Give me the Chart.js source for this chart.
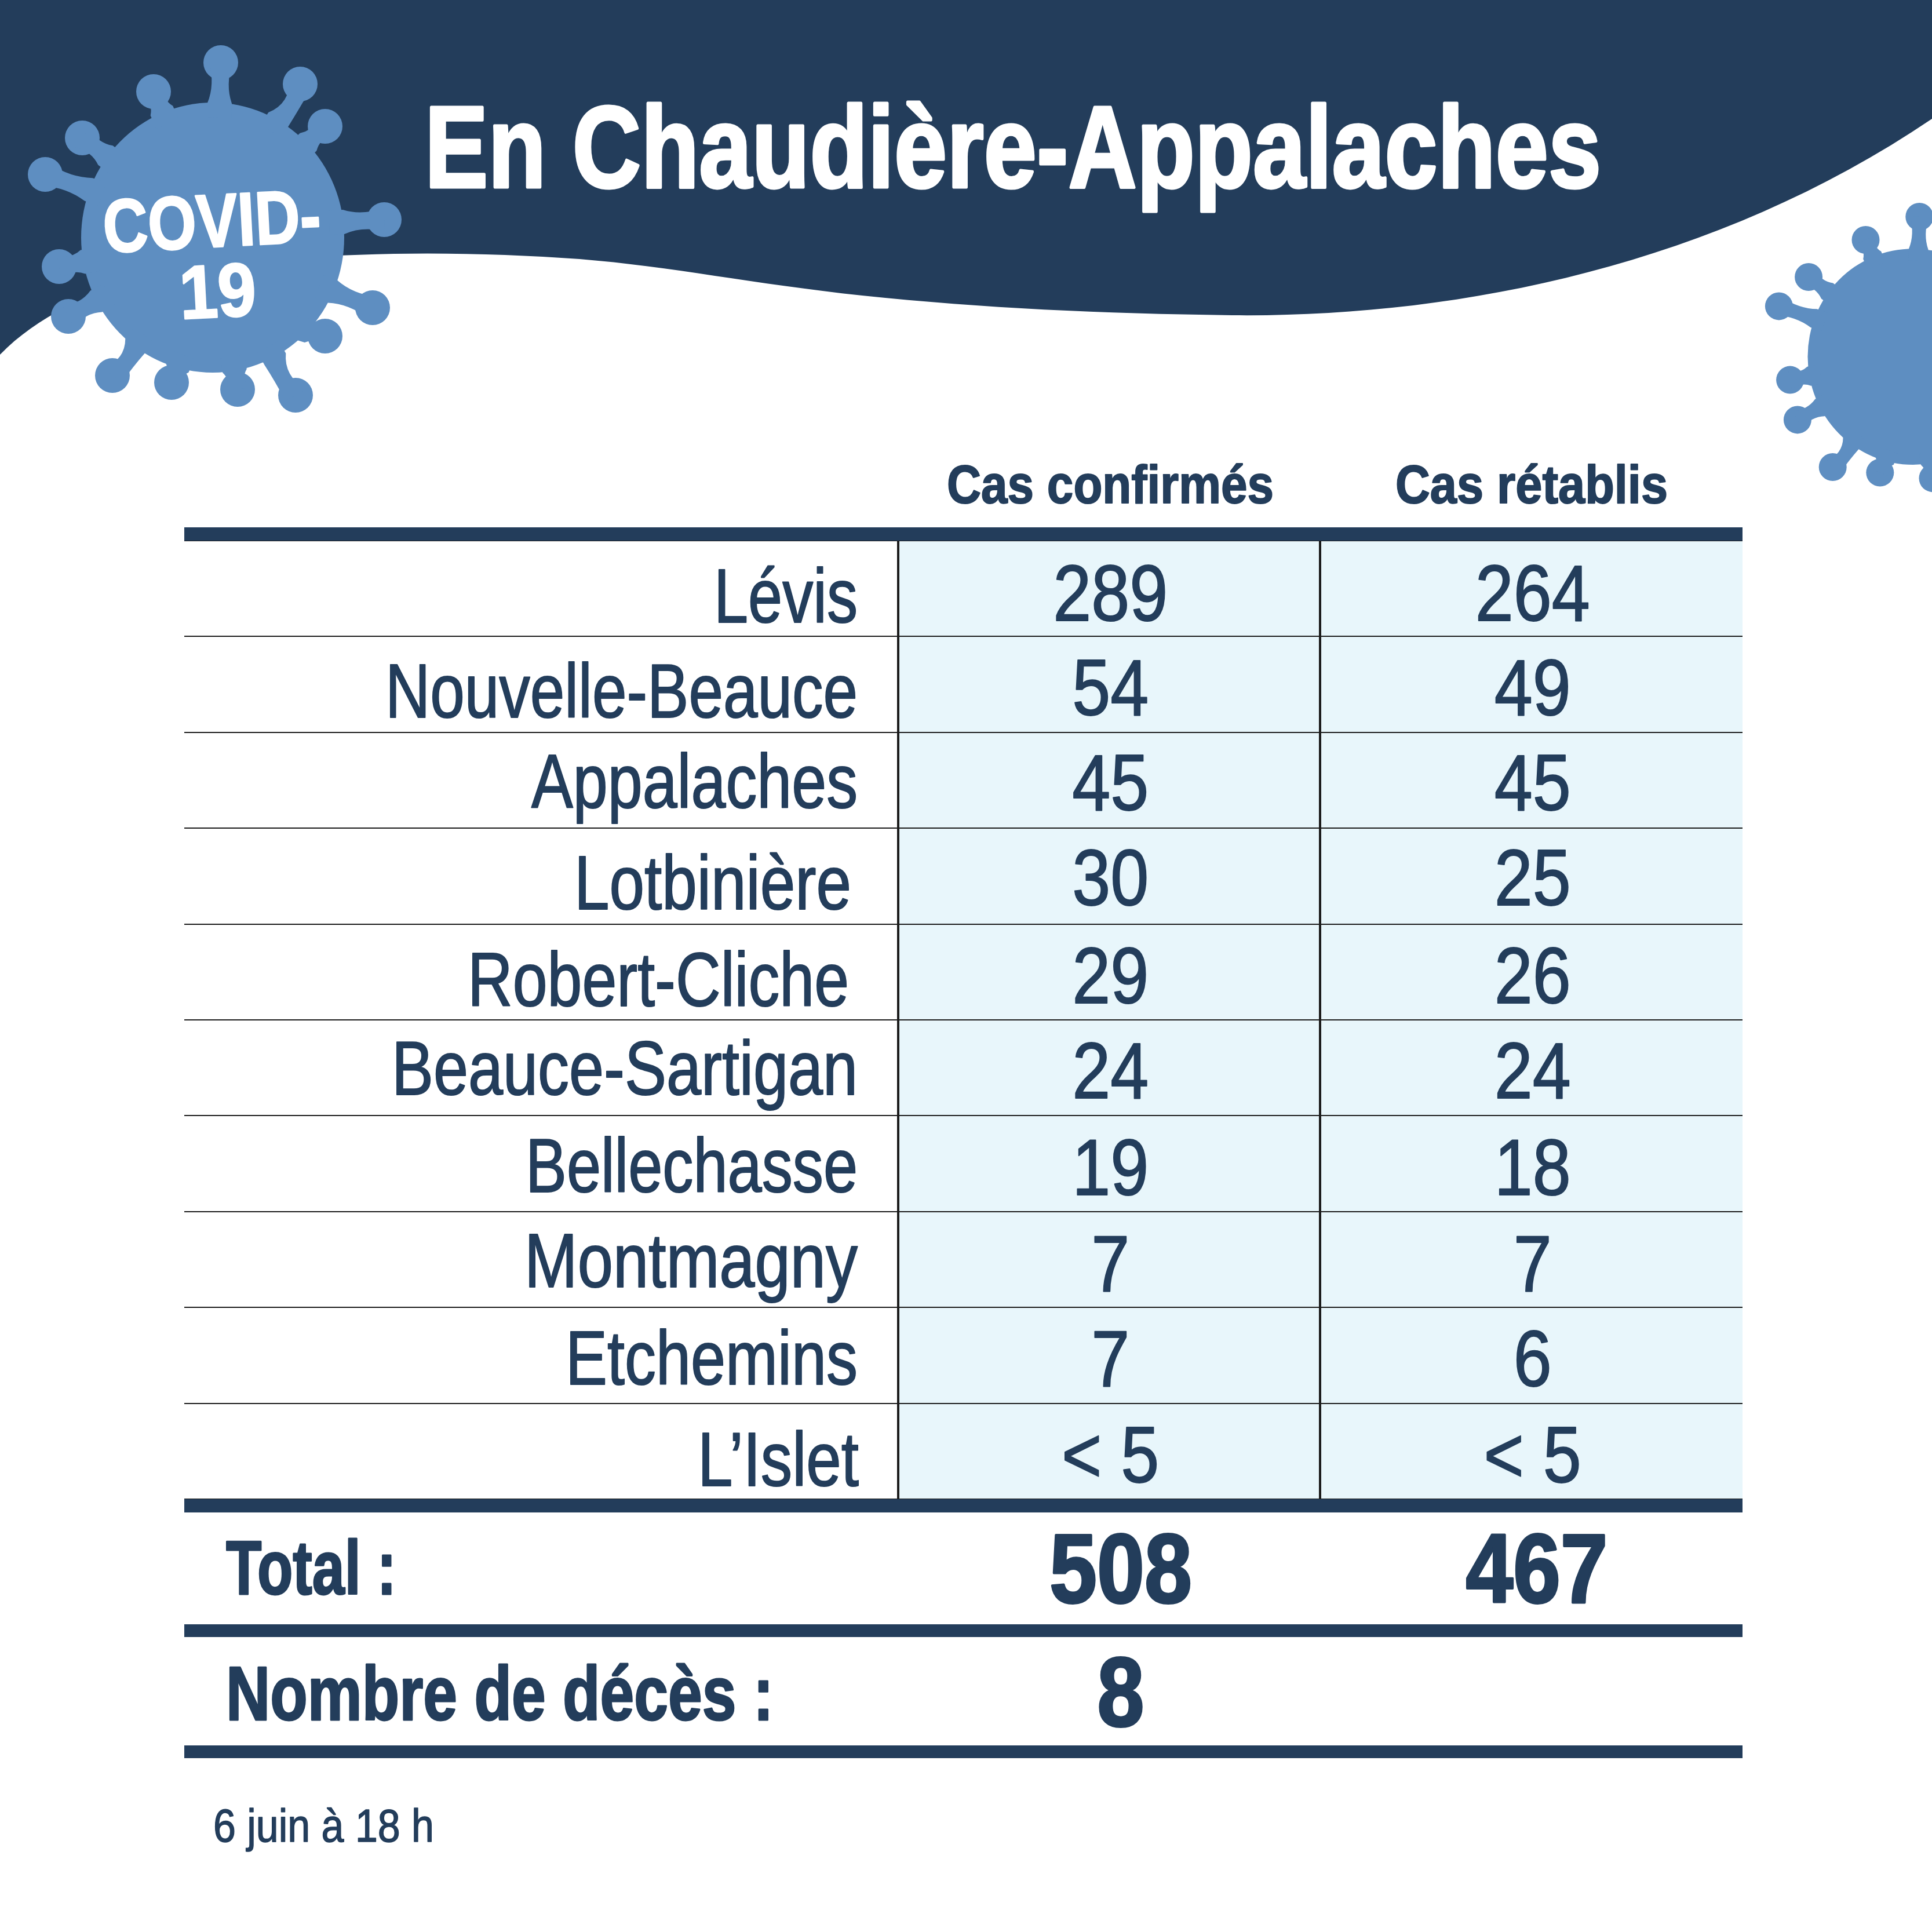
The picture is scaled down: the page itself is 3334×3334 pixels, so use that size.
<!DOCTYPE html>
<html lang="fr">
<head>
<meta charset="utf-8">
<title>COVID-19 en Chaudière-Appalaches</title>
<script src="https://cdn.jsdelivr.net/npm/chart.js@4"></script>
<style>
  html, body { margin: 0; padding: 0; background: #fff; }
  canvas { display: block; }
</style>
</head>
<body>
<canvas id="chartCovid" width="3334" height="3334"></canvas>
<script>
// Table content
const regions = ['Lévis', 'Nouvelle-Beauce', 'Appalaches', 'Lotbinière', 'Robert-Cliche',
                 'Beauce-Sartigan', 'Bellechasse', 'Montmagny', 'Etchemins', 'L’Islet'];
const casConfirmes = ['289', '54', '45', '30', '29', '24', '19', '7', '7', '< 5'];
const casRetablis = ['264', '49', '45', '25', '26', '24', '18', '7', '6', '< 5'];
const columnTitles = ['Cas confirmés', 'Cas rétablis'];
const totalLabel = 'Total :';
const totals = ['508', '467'];
const decesLabel = 'Nombre de décès :';
const deces = '8';
const title = 'En Chaudière-Appalaches';
const dateNote = '6 juin à 18 h';

// Typesetting of the rows (the source nudges each line by hand)
const labelRight = [1480, 1480, 1480, 1469, 1465, 1480, 1480, 1480, 1480, 1482];
const labelWidth = [248, 815, 563, 478, 658, 804, 573, 575, 504, 278];
const labelDrop = [58, 57, 47.5, 57, 59, 46, 49, 47.5, 50, 60];
const valueDrop = [55, 53, 51.5, 50, 53.6, 52, 54, 54.5, 53, 54];

const NAVY = '#233d5b';
const BLUE = '#5e8ec1';
const ICE = '#e8f6fb';
const RULE = '#1c1c1c';
const FONT = '"Liberation Sans"';

// Virus outline: knob centre, where its stem meets the body, how far the stem bows
const knobs = [
    [381, 108, 379, 178, 0], [265, 158, 279, 191, 0], [518, 145, 481, 205, -12], [561, 218, 532, 245, 0],
    [142, 238, 182, 268, 0], [78, 301, 153, 327, 0], [663, 379, 593, 383, 0], [102, 460, 143, 452, 0],
    [643, 531, 574, 503, 0], [118, 546, 166, 520, 0], [561, 580, 532, 571, 0], [194, 648, 233, 597, 10],
    [296, 660, 306, 635, 0], [410, 672, 405, 640, 0], [510, 682, 475, 620, -10]
];

function drawVirus(ctx, ox, oy, s) {
    ctx.save();
    ctx.translate(ox, oy);
    ctx.scale(s, s);
    ctx.fillStyle = BLUE;
    ctx.beginPath();
    ctx.ellipse(367, 410, 227, 233, 0, 0, Math.PI * 2);
    ctx.fill();
    knobs.forEach(([bx, by, ax, ay, bow]) => {
        const len = Math.hypot(ax - bx, ay - by);
        const ux = (ax - bx) / len, uy = (ay - by) / len;
        const nx = -uy, ny = ux;
        const mx = bx + (ax - bx) * 0.55 + nx * bow, my = by + (ay - by) * 0.55 + ny * bow;
        ctx.beginPath();
        ctx.arc(bx, by, 30, 0, Math.PI * 2);
        ctx.fill();
        ctx.beginPath();
        ctx.moveTo(bx + nx * 20, by + ny * 20);
        ctx.quadraticCurveTo(mx + nx * 9, my + ny * 9, ax + nx * 21, ay + ny * 21);
        ctx.lineTo(ax + ux * 25 + nx * 21, ay + uy * 25 + ny * 21);
        ctx.lineTo(ax + ux * 25 - nx * 21, ay + uy * 25 - ny * 21);
        ctx.lineTo(ax - nx * 21, ay - ny * 21);
        ctx.quadraticCurveTo(mx - nx * 9, my - ny * 9, bx - nx * 20, by - ny * 20);
        ctx.closePath();
        ctx.fill();
    });
    ctx.restore();
}

function drawBanner(ctx) {
    ctx.fillStyle = NAVY;
    ctx.beginPath();
    ctx.moveTo(0, 0);
    ctx.lineTo(3334, 0);
    ctx.lineTo(3334, 205);
    ctx.bezierCurveTo(2950, 465, 2500, 548, 2126, 544);
    ctx.bezierCurveTo(1900, 541, 1700, 532, 1488, 510);
    ctx.bezierCurveTo(1300, 490, 1160, 460, 1000, 447);
    ctx.bezierCurveTo(900, 440, 790, 436, 680, 438);
    ctx.bezierCurveTo(350, 445, 130, 480, 0, 612);
    ctx.closePath();
    ctx.fill();
}

// Liberation is much wider than the condensed face of the source, so text is squeezed to a measured width
function putText(ctx, str, x, y, size, opts) {
    const { bold = false, width = null, squeeze = 1, align = 'left', color = NAVY, thicken = 0 } = opts;
    ctx.font = `${bold ? 'bold ' : ''}${size}px ${FONT}`;
    ctx.textAlign = align;
    ctx.textBaseline = 'alphabetic';
    ctx.fillStyle = color;
    const w = width || ctx.measureText(str).width * squeeze;
    ctx.fillText(str, x, y, w);
    if (thicken) {
        ctx.strokeStyle = color;
        ctx.lineWidth = thicken;
        ctx.lineJoin = 'round';
        ctx.strokeText(str, x, y, w);
    }
}

const tablePlugin = {
    id: 'tablePlugin',
    beforeDraw(chart) {
        const ctx = chart.ctx;
        drawBanner(ctx);
        drawVirus(ctx, 0, 0, 1);
        drawVirus(ctx, 3007.5, 287.6, 0.8);
    },
    afterDraw(chart) {
        const ctx = chart.ctx;
        const { x, y } = chart.scales;
        const left = chart.chartArea.left, right = chart.chartArea.right;
        const colX = [x.getPixelForValue(0.5) + 2, x.getPixelForValue(1.5) + 2];

        // Heavy rules
        ctx.fillStyle = NAVY;
        [[910, 23], [2587, 23], [2803, 22], [3012, 22]].forEach(([top, h]) => {
            ctx.fillRect(left, top, right - left, h);
        });

        // Banner text
        putText(ctx, title, 733, 323, 200, { bold: true, width: 2030, color: '#fff', thicken: 5 });
        ctx.save();
        ctx.translate(180, 436);
        ctx.rotate(-3 * Math.PI / 180);
        putText(ctx, 'COVID-', 0, 0, 130, { bold: true, width: 376, color: '#fff', thicken: 3 });
        ctx.restore();
        ctx.save();
        ctx.translate(378, 547);
        ctx.rotate(-3 * Math.PI / 180);
        putText(ctx, '19', 0, 0, 130, { bold: true, width: 132, align: 'center', color: '#fff', thicken: 3 });
        ctx.restore();

        // Column titles
        putText(ctx, columnTitles[0], 1916, 868, 93, { bold: true, width: 564, align: 'center', thicken: 2 });
        putText(ctx, columnTitles[1], 2643, 868, 93, { bold: true, width: 470, align: 'center', thicken: 2 });

        // Rows
        regions.forEach((name, i) => {
            const mid = y.getPixelForValue(i);
            putText(ctx, name, labelRight[i], mid + labelDrop[i], 131,
                { width: labelWidth[i], align: 'right', thicken: 2 });
            [casConfirmes, casRetablis].forEach((col, c) => {
                putText(ctx, col[i], colX[c], mid + valueDrop[i], 138,
                    { squeeze: 0.86, align: 'center', thicken: 2 });
            });
        });

        // Totals and footer
        putText(ctx, totalLabel, 390, 2751, 132, { bold: true, width: 294, thicken: 3 });
        putText(ctx, totals[0], 1934, 2765, 169, { bold: true, width: 246, align: 'center', thicken: 4 });
        putText(ctx, totals[1], 2652, 2765, 169, { bold: true, width: 245, align: 'center', thicken: 4 });
        putText(ctx, decesLabel, 390, 2968, 132, { bold: true, width: 945, thicken: 3 });
        putText(ctx, deces, 1934, 2978, 169, { bold: true, width: 81, align: 'center', thicken: 4 });
        putText(ctx, dateNote, 368, 3178, 80, { width: 381, thicken: 1.5 });
    }
};

new Chart(document.getElementById('chartCovid'), {
    type: 'bar',
    data: {
        labels: regions,
        datasets: [
            {
                label: columnTitles[0],
                data: casConfirmes.map(() => [0, 1]),
                backgroundColor: ICE
            },
            {
                label: columnTitles[1],
                data: casRetablis.map(() => [1, 2]),
                backgroundColor: ICE
            }
        ]
    },
    options: {
        indexAxis: 'y',
        responsive: false,
        devicePixelRatio: 1,
        animation: false,
        layout: { padding: { left: 318, right: 327, top: 933, bottom: 747 } },
        datasets: { bar: { grouped: false, barPercentage: 1, categoryPercentage: 1 } },
        plugins: { legend: { display: false }, tooltip: { enabled: false } },
        scales: {
            x: {
                type: 'linear',
                min: -1.691,
                max: 2,
                ticks: { display: false, stepSize: 1 },
                border: { display: false },
                grid: {
                    z: 1,
                    drawTicks: false,
                    lineWidth: 4,
                    color: c => (c.tick.value === 0 || c.tick.value === 1) ? RULE : 'rgba(0,0,0,0)'
                }
            },
            y: {
                ticks: { display: false },
                border: { display: false },
                grid: { z: 1, offset: true, drawTicks: false, lineWidth: 2, color: RULE }
            }
        }
    },
    plugins: [tablePlugin]
});
</script>
</body>
</html>
